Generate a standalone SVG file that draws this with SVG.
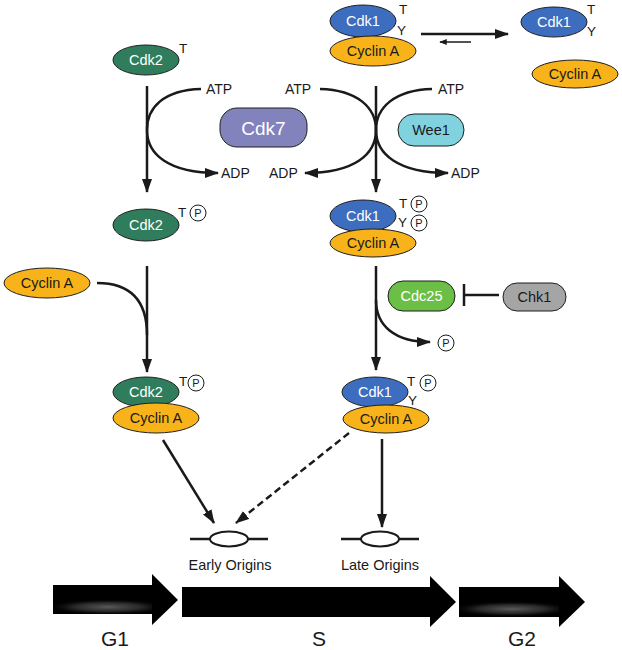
<svg xmlns="http://www.w3.org/2000/svg" width="622" height="650" viewBox="0 0 622 650">
<style>
text{font-family:"Liberation Sans",Arial,sans-serif}
.nt{font-size:14.5px;text-anchor:middle;dominant-baseline:central}
.w{fill:#fff}
.d{fill:#1a1a1a}
.cdk2{fill:#2f7d5c;stroke:#1f1f1f;stroke-width:1}
.cdk1{fill:#3d6dbf;stroke:#1f1f1f;stroke-width:1}
.cyc{fill:#f7b319;stroke:#1f1f1f;stroke-width:1}
.lbl{font-size:13.5px;fill:#1a1a1a}
.atp{font-size:14px;fill:#1a1a1a}
.pc{fill:#fff;stroke:#1a1a1a;stroke-width:1}
.pt{font-size:11px;text-anchor:middle;dominant-baseline:central;fill:#1a1a1a}
.ln{fill:none;stroke:#1a1a1a;stroke-width:2.5}
.arr{marker-end:url(#ah)}
.ori{font-size:14.5px;fill:#1a1a1a;text-anchor:middle}
.ph{font-size:21px;fill:#1a1a1a;text-anchor:middle}
</style>
<defs>
<marker id="ah" viewBox="0 0 14 10" refX="13" refY="5" markerWidth="14" markerHeight="11" orient="auto" markerUnits="userSpaceOnUse">
<path d="M0,0 L14,5 L0,10 z" fill="#1a1a1a"/>
</marker>
<marker id="ahs" viewBox="0 0 10 8" refX="9" refY="4" markerWidth="8" markerHeight="6" orient="auto" markerUnits="userSpaceOnUse">
<path d="M0,0 L10,4 L0,8 z" fill="#1a1a1a"/>
</marker>
<radialGradient id="hl1" gradientUnits="userSpaceOnUse" cx="108" cy="607" r="62" gradientTransform="translate(108 607) scale(1 0.13) translate(-108 -607)">
<stop offset="0" stop-color="#5e5a5a"/>
<stop offset="0.55" stop-color="#3a3838" stop-opacity="0.7"/>
<stop offset="1" stop-color="#000" stop-opacity="0"/>
</radialGradient>
<radialGradient id="hl2" gradientUnits="userSpaceOnUse" cx="512" cy="609" r="62" gradientTransform="translate(512 609) scale(1 0.13) translate(-512 -609)">
<stop offset="0" stop-color="#5e5a5a"/>
<stop offset="0.55" stop-color="#3a3838" stop-opacity="0.7"/>
<stop offset="1" stop-color="#000" stop-opacity="0"/>
</radialGradient>
</defs>

<g id="connectors">
<path class="ln arr" d="M147,86 L147,192"/>
<path class="ln arr" d="M201,89 C163,90 147,108 147,130 C147,154 168,173 218,173"/>
<path class="ln arr" d="M376,86 L376,192"/>
<path class="ln arr" d="M320,89 C358,90 376,108 376,130 C376,154 355,173 305,173"/>
<path class="ln arr" d="M432,89 C394,90 376,108 376,130 C376,154 398,173 448,173"/>
<path class="ln arr" d="M421,34 L508,34"/>
<path fill="none" stroke="#1a1a1a" stroke-width="1.5" marker-end="url(#ahs)" d="M471,42 L440,42"/>
<path class="ln arr" d="M147,266 L147,372"/>
<path class="ln" d="M97,283 C130,283 147,300 147,335"/>
<path class="ln arr" d="M376,266 L376,370"/>
<path class="ln arr" d="M376,300 C376,326 395,342 430,342"/>
<path class="ln" d="M499,295 L464,295"/>
<path class="ln" d="M464,284 L464,306"/>
<path class="ln arr" d="M163,440 L214,523"/>
<path class="ln arr" d="M349,433 L236,523" stroke-dasharray="7,4"/>
<path class="ln arr" d="M382,439 L382,527"/>
</g>

<g id="cdk2_T">
<ellipse class="cdk2" cx="146" cy="60" rx="33" ry="15"/>
<text class="nt w" x="146" y="60">Cdk2</text>
<text class="lbl" x="179" y="53">T</text>
</g>

<g id="cdk1_cycA_TY">
<ellipse class="cdk1" cx="363" cy="21" rx="33" ry="16"/>
<text class="nt w" x="363" y="21">Cdk1</text>
<ellipse class="cyc" cx="373" cy="51" rx="43" ry="15"/>
<text class="nt d" x="373" y="51">Cyclin A</text>
<text class="lbl" x="399" y="14">T</text>
<text class="lbl" x="397" y="35">Y</text>
</g>

<g id="cdk1_free">
<ellipse class="cdk1" cx="554" cy="22" rx="33" ry="15"/>
<text class="nt w" x="554" y="22">Cdk1</text>
<text class="lbl" x="587" y="14">T</text>
<text class="lbl" x="587" y="36">Y</text>
</g>

<g id="cycA_free">
<ellipse class="cyc" cx="575" cy="74" rx="43" ry="14"/>
<text class="nt d" x="575" y="74">Cyclin A</text>
</g>

<g id="atp_adp_labels">
<text class="atp" x="206" y="94">ATP</text>
<text class="atp" x="221" y="178">ADP</text>
<text class="atp" x="285" y="94">ATP</text>
<text class="atp" x="269" y="178">ADP</text>
<text class="atp" x="438" y="94">ATP</text>
<text class="atp" x="451" y="178">ADP</text>
</g>

<g id="cdk7">
<rect x="220" y="108" width="87" height="39" rx="17" fill="#8282bd" stroke="#1f1f1f" stroke-width="1"/>
<text x="263.5" y="128" style="font-size:19px;text-anchor:middle;dominant-baseline:central" fill="#fff">Cdk7</text>
</g>

<g id="wee1">
<rect x="398" y="114" width="66" height="32" rx="16" fill="#80d2de" stroke="#1f1f1f" stroke-width="1"/>
<text class="nt d" x="431" y="130">Wee1</text>
</g>

<g id="cdk2_TP">
<ellipse class="cdk2" cx="146" cy="225" rx="33" ry="16"/>
<text class="nt w" x="146" y="225">Cdk2</text>
<text class="lbl" x="178" y="217">T</text>
<circle class="pc" cx="198" cy="213" r="8"/>
<text class="pt" x="198" y="213">P</text>
</g>

<g id="cycA_left">
<ellipse class="cyc" cx="47" cy="283" rx="43" ry="15"/>
<text class="nt d" x="47" y="283">Cyclin A</text>
</g>

<g id="cdk2_cycA_TP">
<ellipse class="cdk2" cx="146" cy="392" rx="33" ry="15"/>
<text class="nt w" x="146" y="392">Cdk2</text>
<ellipse class="cyc" cx="156" cy="418" rx="43" ry="15"/>
<text class="nt d" x="156" y="418">Cyclin A</text>
<text class="lbl" x="179" y="386">T</text>
<circle class="pc" cx="196" cy="383" r="8"/>
<text class="pt" x="196" y="383">P</text>
</g>

<g id="cdk1_cycA_TPYP">
<ellipse class="cdk1" cx="363" cy="216" rx="33" ry="16"/>
<text class="nt w" x="363" y="216">Cdk1</text>
<ellipse class="cyc" cx="373" cy="243" rx="43" ry="14"/>
<text class="nt d" x="373" y="243">Cyclin A</text>
<text class="lbl" x="399" y="208">T</text>
<circle class="pc" cx="419" cy="204" r="8"/>
<text class="pt" x="419" y="204">P</text>
<text class="lbl" x="398" y="227">Y</text>
<circle class="pc" cx="419" cy="223" r="8"/>
<text class="pt" x="419" y="223">P</text>
</g>

<g id="cdc25">
<rect x="388" y="281" width="67" height="30" rx="15" fill="#6cbf46" stroke="#1f1f1f" stroke-width="1"/>
<text class="nt w" x="421.5" y="296">Cdc25</text>
</g>

<g id="chk1">
<rect x="503" y="283" width="63" height="28" rx="14" fill="#a5a5a5" stroke="#1f1f1f" stroke-width="1"/>
<text class="nt d" x="534.5" y="297">Chk1</text>
</g>

<g id="p_released">
<circle class="pc" cx="446" cy="343" r="8"/>
<text class="pt" x="446" y="343">P</text>
</g>

<g id="cdk1_cycA_TP">
<ellipse class="cdk1" cx="375" cy="392" rx="33" ry="15"/>
<text class="nt w" x="375" y="392">Cdk1</text>
<ellipse class="cyc" cx="386" cy="419" rx="43" ry="14"/>
<text class="nt d" x="386" y="419">Cyclin A</text>
<text class="lbl" x="407" y="386">T</text>
<circle class="pc" cx="428" cy="383" r="8"/>
<text class="pt" x="428" y="383">P</text>
<text class="lbl" x="408" y="405">Y</text>
</g>

<g id="early_origins">
<path class="ln" d="M190,539 L268,539"/>
<ellipse cx="229" cy="539" rx="19" ry="7.5" fill="#fff" stroke="#1a1a1a" stroke-width="2"/>
<text class="ori" x="230" y="570">Early Origins</text>
</g>

<g id="late_origins">
<path class="ln" d="M341,539 L419,539"/>
<ellipse cx="380" cy="539" rx="19" ry="7.5" fill="#fff" stroke="#1a1a1a" stroke-width="2"/>
<text class="ori" x="380" y="570">Late Origins</text>
</g>

<g id="phase_G1">
<path d="M53,585 L152,585 L152,574 L178,600 L152,625 L152,614 L53,614 z" fill="#000"/>
<rect x="53" y="585" width="99" height="29" fill="url(#hl1)"/>
<text class="ph" x="115" y="646">G1</text>
</g>

<g id="phase_S">
<path d="M182,587 L430,587 L430,576 L456,602 L430,627 L430,617 L182,617 z" fill="#000"/>
<text class="ph" x="319" y="646">S</text>
</g>

<g id="phase_G2">
<path d="M459,587 L559,587 L559,576 L585,602 L559,627 L559,617 L459,617 z" fill="#000"/>
<rect x="459" y="587" width="100" height="30" fill="url(#hl2)"/>
<text class="ph" x="522" y="646">G2</text>
</g>
</svg>
